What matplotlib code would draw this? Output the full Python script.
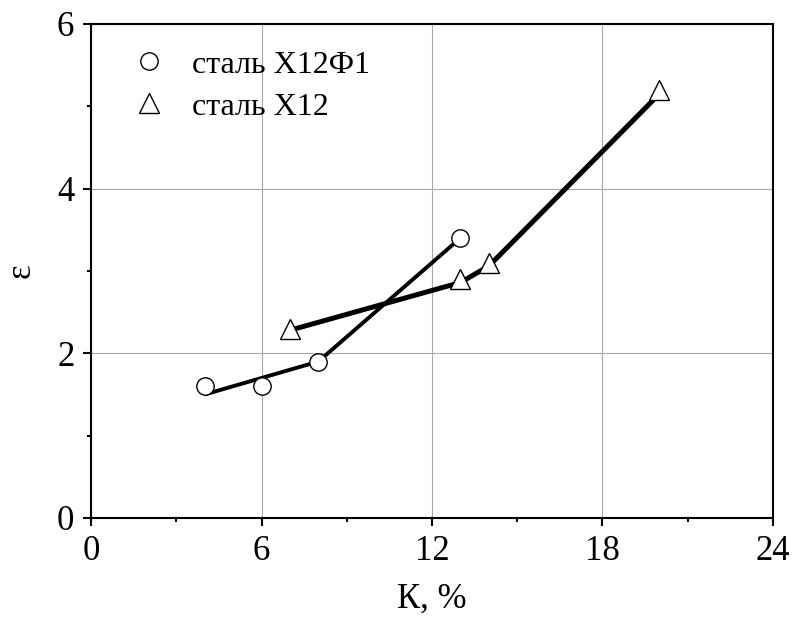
import matplotlib
matplotlib.use("Agg")
import matplotlib.pyplot as plt
from matplotlib.ticker import MultipleLocator

# measured points
x12f1_k = [4, 6, 8, 13]
x12f1_eps = [1.6, 1.6, 1.9, 3.4]
x12_k = [7, 13, 14, 20]
x12_eps = [2.3, 2.9, 3.1, 5.2]

# trend lines as drawn on the original
x12f1_line_k = [4, 8, 13]
x12f1_line_eps = [1.5, 1.9, 3.4]
x12_line_k = [7, 13, 14, 20]
x12_line_eps = [2.28, 2.86, 3.06, 5.15]

labels = ["сталь Х12Ф1", "сталь Х12"]

plt.rcParams['font.family'] = ['Liberation Serif', 'DejaVu Serif']

fig = plt.figure(figsize=(7.95, 6.21), dpi=100)
ax = fig.add_axes([0.1145, 0.1659, 0.9723 - 0.1145, 0.9614 - 0.1659])

ax.plot(x12f1_line_k, x12f1_line_eps, color='black', lw=2.8, zorder=3,
        solid_capstyle='butt')
ax.plot(x12_line_k, x12_line_eps, color='black', lw=3.6, zorder=3,
        solid_capstyle='butt')

ax.plot(x12f1_k, x12f1_eps, 'o', ms=12.5, mfc='white', mec='black', mew=1.0,
        ls='none', zorder=4, label=labels[0])
ax.plot(x12_k, x12_eps, '^', ms=14.5, mfc='white', mec='black', mew=1.0,
        ls='none', zorder=4, label=labels[1])

ax.set_xlim(0, 24)
ax.set_ylim(0, 6)
ax.xaxis.set_major_locator(MultipleLocator(6))
ax.xaxis.set_minor_locator(MultipleLocator(3))
ax.yaxis.set_major_locator(MultipleLocator(2))
ax.yaxis.set_minor_locator(MultipleLocator(1))

ax.grid(True, which='major', color='#a8a8a8', lw=0.8, zorder=0)
ax.tick_params(which='both', direction='out', top=False, right=False,
               labelsize=25, width=1.5)
ax.tick_params(which='major', length=6, pad=6)
ax.tick_params(which='minor', length=3)
for s in ax.spines.values():
    s.set_linewidth(1.5)

ax.set_xlabel("К, %", fontsize=25, labelpad=11)
ax.set_ylabel("ε", fontsize=25, labelpad=14)

ax.legend(loc='upper left', frameon=False, fontsize=23, markerscale=1.0,
          handlelength=1.0, handletextpad=0.85, labelspacing=0.4,
          borderpad=0, borderaxespad=0,
          bbox_to_anchor=(0.0616, 0.947))

fig.savefig("out.png", dpi=100)
